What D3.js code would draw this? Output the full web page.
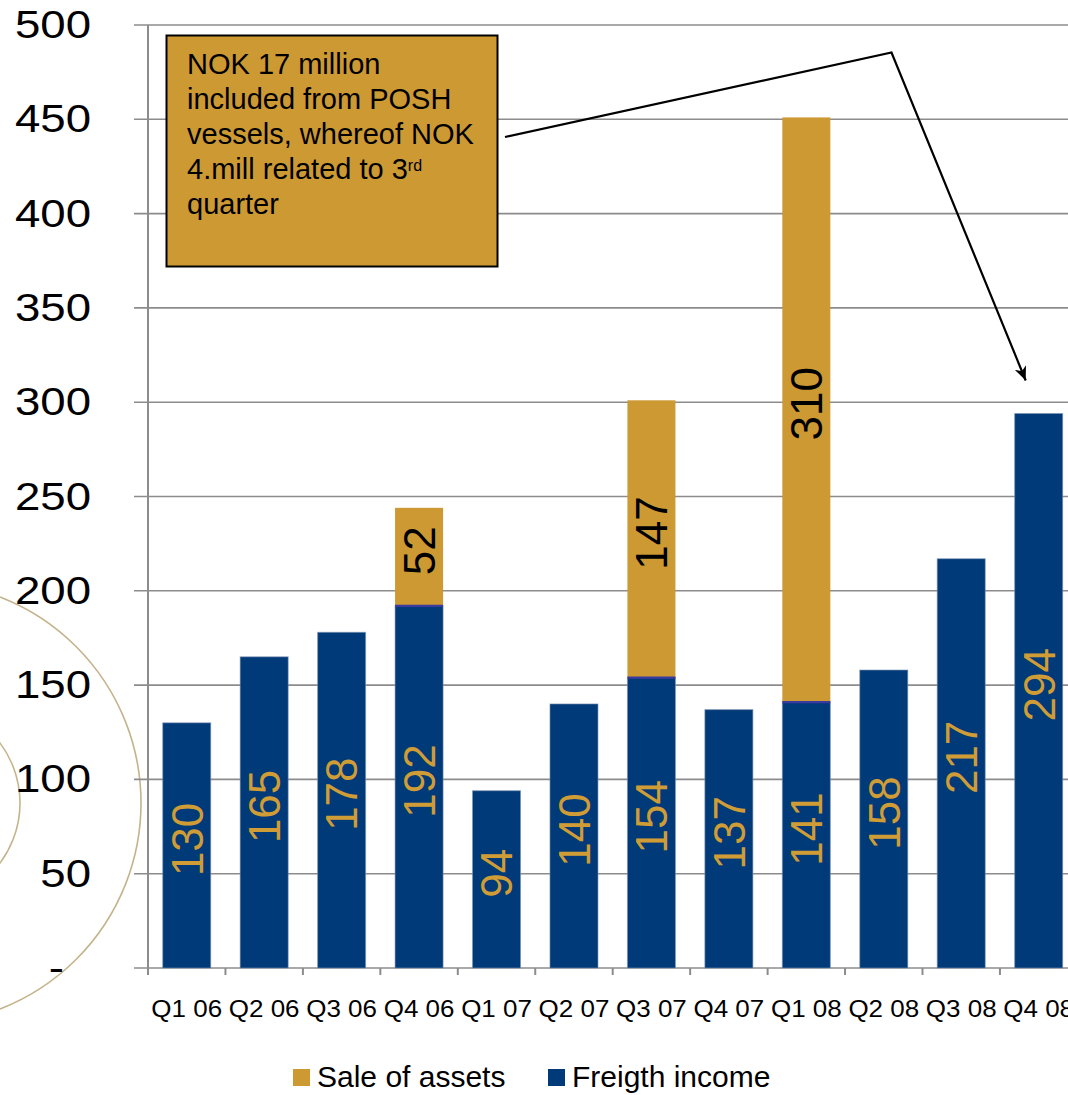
<!DOCTYPE html>
<html>
<head>
<meta charset="utf-8">
<script src="https://cdn.jsdelivr.net/npm/d3@7"></script>
<style>
  html, body { margin: 0; padding: 0; background: #ffffff; }
  svg { display: block; font-family: "Liberation Sans", Arial, sans-serif; }
</style>
</head>
<body>
<svg id="chart" width="1068" height="1095"></svg>
<script>
// Quarterly revenue split (NOK million)
const quarters = ["Q1 06", "Q2 06", "Q3 06", "Q4 06", "Q1 07", "Q2 07",
                  "Q3 07", "Q4 07", "Q1 08", "Q2 08", "Q3 08", "Q4 08"];
const freightIncome = [130, 165, 178, 192, 94, 140, 154, 137, 141, 158, 217, 294];
const saleOfAssets  = [0, 0, 0, 52, 0, 0, 147, 0, 310, 0, 0, 0];
const yTicks = [0, 50, 100, 150, 200, 250, 300, 350, 400, 450, 500];
const seriesNames = ["Sale of assets", "Freigth income"];
const noteLines = ["NOK 17 million", "included from POSH", "vessels, whereof NOK",
                   "4.mill related to 3", "quarter"];

const GOLD = "#CC9933";
const BLUE = "#003A78";
const GRID = "#8c8c8c";

const svg = d3.select("#chart");
svg.append("rect").attr("width", 1068).attr("height", 1095).attr("fill", "#fff");

// decorative rings behind the axis labels
const rings = svg.append("g").attr("fill", "none").attr("stroke", "#c4b48c").attr("stroke-width", 1.6);
[100, 221].forEach(r => rings.append("circle").attr("cx", -80).attr("cy", 803).attr("r", r));

const x = d3.scaleBand().domain(quarters).range([148, 1077.4]).paddingInner(0.38).paddingOuter(0.19);
const y = d3.scaleLinear().domain([0, 500]).range([968, 25]);

const rows = quarters.map((q, i) => ({ q, freight: freightIncome[i], sale: saleOfAssets[i] }));
const stacked = d3.stack().keys(["freight", "sale"])(rows);

// horizontal gridlines + y tick marks
const grid = svg.append("g");
grid.selectAll("line").data(yTicks).join("line")
  .attr("x1", 134).attr("x2", 1068)
  .attr("y1", d => y(d)).attr("y2", d => y(d))
  .attr("stroke", GRID).attr("stroke-width", 1.6);

// y axis line
svg.append("line").attr("x1", 148).attr("x2", 148).attr("y1", y(500)).attr("y2", y(0) + 7)
  .attr("stroke", GRID).attr("stroke-width", 2);

// x axis ticks at category boundaries
const step = x.step();
const bounds = quarters.map((q, i) => x.range()[0] + i * step);
svg.append("g").selectAll("line").data(bounds).join("line")
  .attr("x1", d => d).attr("x2", d => d).attr("y1", y(0)).attr("y2", y(0) + 7)
  .attr("stroke", GRID).attr("stroke-width", 2);

// y tick labels (stretched horizontally)
svg.append("g").selectAll("text").data(yTicks).join("text")
  .attr("transform", d => `translate(${d === 0 ? 64 : 91},${y(d) + 13}) scale(1.2,1)`)
  .attr("text-anchor", "end")
  .attr("font-size", 38)
  .attr("fill", "#000")
  .text(d => d === 0 ? "-" : d);

// x tick labels
svg.append("g").selectAll("text").data(quarters).join("text")
  .attr("transform", d => `translate(${x(d) + x.bandwidth() / 2},1017) scale(1.13,1)`)
  .attr("text-anchor", "middle")
  .attr("font-size", 23)
  .attr("fill", "#000")
  .text(d => d);

// bars
const colors = { freight: BLUE, sale: GOLD };
const barG = svg.append("g");
stacked.forEach(layer => {
  barG.append("g").selectAll("rect").data(layer.filter(d => d[1] > d[0])).join("rect")
    .attr("x", d => x(d.data.q))
    .attr("width", x.bandwidth())
    .attr("y", d => y(d[1]))
    .attr("height", d => y(d[0]) - y(d[1]))
    .attr("fill", colors[layer.key])
    .attr("stroke", layer.key === "freight" ? "#7d93b3" : "none")
    .attr("stroke-width", 1)
    .attr("stroke-opacity", 0.6);
});

// thin seam between freight and asset-sale segments
barG.append("g").selectAll("line").data(rows.filter(d => d.sale > 0)).join("line")
  .attr("x1", d => x(d.q)).attr("x2", d => x(d.q) + x.bandwidth())
  .attr("y1", d => y(d.freight)).attr("y2", d => y(d.freight))
  .attr("stroke", "#3b3a9e").attr("stroke-width", 2.2);

// value labels rotated inside the segments
const labelG = svg.append("g");
stacked.forEach(layer => {
  labelG.append("g").selectAll("text").data(layer.filter(d => d[1] > d[0])).join("text")
    .attr("transform", d => `translate(${x(d.data.q) + x.bandwidth() / 2},${(y(d[0]) + y(d[1])) / 2}) rotate(-90)`)
    .attr("text-anchor", "middle")
    .attr("dx", 6)
    .attr("dy", "0.36em")
    .attr("font-size", 44)
    .attr("fill", layer.key === "freight" ? "#D09C35" : "#000")
    .text(d => d[1] - d[0]);
});

// callout box
const note = svg.append("g");
note.append("rect").attr("x", 166.5).attr("y", 35.5).attr("width", 331).attr("height", 231)
  .attr("fill", GOLD).attr("stroke", "#000").attr("stroke-width", 2);
const noteText = note.append("text").attr("font-size", 29).attr("fill", "#000");
noteLines.forEach((line, i) => {
  noteText.append("tspan").attr("x", 187).attr("y", 74 + i * 35).text(line);
  if (i === 3) {
    noteText.append("tspan").attr("dy", -8).attr("font-size", 16).text("rd");
  }
});

// arrow from callout to Q4 08
const defs = svg.append("defs");
defs.append("marker").attr("id", "head")
  .attr("markerUnits", "userSpaceOnUse")
  .attr("viewBox", "-14 -6 16 12")
  .attr("refX", 0).attr("refY", 0)
  .attr("markerWidth", 16).attr("markerHeight", 12)
  .attr("orient", "auto")
  .append("path").attr("d", "M0,0 L-14,-6 L-10,0 L-14,6 Z").attr("fill", "#000");

const tipX = x("Q4 08") + x.bandwidth() * 0.23;
const tipY = y(freightIncome[11]) - 33;
svg.append("path")
  .attr("d", d3.line()([[505, 137], [891.5, 52.5], [tipX, tipY]]))
  .attr("fill", "none").attr("stroke", "#000").attr("stroke-width", 2.2)
  .attr("marker-end", "url(#head)");

// legend
const legend = svg.append("g");
const legendItems = [
  { name: seriesNames[0], color: GOLD, x: 293 },
  { name: seriesNames[1], color: BLUE, x: 548 }
];
legendItems.forEach(it => {
  legend.append("rect").attr("x", it.x).attr("y", 1069).attr("width", 17).attr("height", 17).attr("fill", it.color);
  legend.append("text").attr("x", it.x + 24).attr("y", 1087).attr("font-size", 30).attr("fill", "#000").text(it.name);
});
</script>
</body>
</html>
